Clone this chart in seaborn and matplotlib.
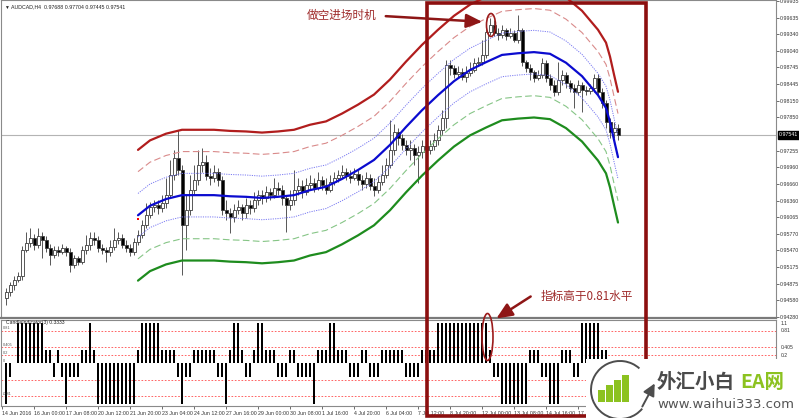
import numpy as np
import pandas as pd
import seaborn as sns
import matplotlib.pyplot as plt
from matplotlib.patches import Rectangle, Ellipse, Arc

# ---- data ----
first_open = 0.9462
closes = [0.9473, 0.9485, 0.9494, 0.9501, 0.9548, 0.9560, 0.9569, 0.9557, 0.9573, 0.9566,
          0.9551, 0.9539, 0.9548, 0.9544, 0.9551, 0.9544, 0.9521, 0.9534, 0.9526, 0.9548,
          0.9557, 0.9569, 0.9566, 0.9551, 0.9548, 0.9544, 0.9553, 0.9566, 0.9569, 0.9557,
          0.9551, 0.9544, 0.9562, 0.9575, 0.9593, 0.9610, 0.9625, 0.9628, 0.9623, 0.9632,
          0.9646, 0.9682, 0.9713, 0.9691, 0.9593, 0.9619, 0.9655, 0.9673, 0.9700, 0.9705,
          0.9680, 0.9677, 0.9687, 0.9673, 0.9619, 0.9614, 0.9607, 0.9619, 0.9625, 0.9614,
          0.9628, 0.9623, 0.9637, 0.9646, 0.9641, 0.9652, 0.9646, 0.9659, 0.9655, 0.9641,
          0.9628, 0.9637, 0.9655, 0.9662, 0.9652, 0.9664, 0.9668, 0.9659, 0.9673, 0.9664,
          0.9655, 0.9670, 0.9677, 0.9682, 0.9687, 0.9680, 0.9677, 0.9684, 0.9673, 0.9666,
          0.9677, 0.9662, 0.9655, 0.9670, 0.9682, 0.9700, 0.9727, 0.9759, 0.9748, 0.9736,
          0.9727, 0.9730, 0.9718, 0.9723, 0.9734, 0.9727, 0.9734, 0.9745, 0.9763, 0.9784,
          0.9879, 0.9874, 0.9863, 0.9866, 0.9858, 0.9865, 0.9870, 0.9883, 0.9884, 0.9897,
          0.9938, 0.9951, 0.9936, 0.9933, 0.9942, 0.9931, 0.9936, 0.9924, 0.9942, 0.9884,
          0.9874, 0.9866, 0.9856, 0.9861, 0.9883, 0.9856, 0.9843, 0.9831, 0.9852, 0.9861,
          0.9847, 0.9838, 0.9831, 0.9843, 0.9834, 0.9832, 0.9838, 0.9856, 0.9831, 0.9811,
          0.9777, 0.9759, 0.9766, 0.9754]
highs = [0.9480, 0.9490, 0.9501, 0.9508, 0.9555, 0.9580, 0.9587, 0.9576, 0.9587, 0.9580,
         0.9573, 0.9559, 0.9555, 0.9555, 0.9559, 0.9555, 0.9551, 0.9539, 0.9537, 0.9555,
         0.9575, 0.9580, 0.9580, 0.9573, 0.9559, 0.9553, 0.9566, 0.9587, 0.9580, 0.9576,
         0.9566, 0.9559, 0.9569, 0.9584, 0.9602, 0.9632, 0.9634, 0.9637, 0.9637, 0.9646,
         0.9677, 0.9709, 0.9727, 0.9763, 0.9700, 0.9646, 0.9682, 0.9700, 0.9727, 0.9730,
         0.9718, 0.9695, 0.9700, 0.9695, 0.9680, 0.9637, 0.9623, 0.9630, 0.9637, 0.9630,
         0.9641, 0.9637, 0.9652, 0.9655, 0.9655, 0.9662, 0.9659, 0.9677, 0.9670, 0.9664,
         0.9646, 0.9655, 0.9691, 0.9677, 0.9673, 0.9677, 0.9682, 0.9677, 0.9687, 0.9680,
         0.9677, 0.9682, 0.9687, 0.9691, 0.9700, 0.9695, 0.9691, 0.9695, 0.9691, 0.9682,
         0.9687, 0.9684, 0.9677, 0.9680, 0.9700, 0.9713, 0.9781, 0.9773, 0.9766, 0.9755,
         0.9745, 0.9745, 0.9738, 0.9734, 0.9745, 0.9745, 0.9745, 0.9757, 0.9772, 0.9798,
         0.9888, 0.9888, 0.9879, 0.9877, 0.9874, 0.9877, 0.9884, 0.9892, 0.9893, 0.9924,
         0.9945, 0.9963, 0.9960, 0.9945, 0.9951, 0.9945, 0.9945, 0.9942, 0.9969, 0.9945,
         0.9888, 0.9881, 0.9870, 0.9870, 0.9892, 0.9888, 0.9863, 0.9852, 0.9884, 0.9870,
         0.9866, 0.9852, 0.9845, 0.9852, 0.9849, 0.9841, 0.9845, 0.9863, 0.9863, 0.9838,
         0.9816, 0.9784, 0.9777, 0.9773]
lows = [0.9449, 0.9466, 0.9476, 0.9490, 0.9494, 0.9544, 0.9553, 0.9548, 0.9551, 0.9534,
        0.9544, 0.9521, 0.9534, 0.9537, 0.9541, 0.9537, 0.9508, 0.9516, 0.9521, 0.9523,
        0.9541, 0.9548, 0.9557, 0.9544, 0.9541, 0.9526, 0.9537, 0.9548, 0.9559, 0.9551,
        0.9544, 0.9537, 0.9539, 0.9557, 0.9569, 0.9587, 0.9605, 0.9616, 0.9612, 0.9616,
        0.9623, 0.9641, 0.9673, 0.9682, 0.9503, 0.9548, 0.9610, 0.9646, 0.9664, 0.9687,
        0.9673, 0.9664, 0.9670, 0.9662, 0.9610, 0.9602, 0.9578, 0.9598, 0.9612, 0.9602,
        0.9605, 0.9612, 0.9616, 0.9628, 0.9630, 0.9634, 0.9637, 0.9641, 0.9646, 0.9628,
        0.9580, 0.9619, 0.9628, 0.9646, 0.9641, 0.9646, 0.9655, 0.9652, 0.9655, 0.9655,
        0.9648, 0.9652, 0.9664, 0.9670, 0.9677, 0.9673, 0.9668, 0.9673, 0.9664, 0.9655,
        0.9659, 0.9655, 0.9644, 0.9650, 0.9664, 0.9677, 0.9695, 0.9718, 0.9736, 0.9727,
        0.9718, 0.9709, 0.9700, 0.9668, 0.9713, 0.9718, 0.9720, 0.9727, 0.9736, 0.9754,
        0.9766, 0.9861, 0.9856, 0.9856, 0.9852, 0.9849, 0.9859, 0.9866, 0.9877, 0.9879,
        0.9892, 0.9933, 0.9931, 0.9924, 0.9927, 0.9924, 0.9927, 0.9920, 0.9918, 0.9877,
        0.9866, 0.9852, 0.9849, 0.9852, 0.9856, 0.9849, 0.9834, 0.9824, 0.9825, 0.9843,
        0.9838, 0.9831, 0.9802, 0.9825, 0.9795, 0.9825, 0.9827, 0.9831, 0.9824, 0.9802,
        0.9766, 0.9748, 0.9748, 0.9745]

# centre line of the band indicator, sampled at these bars
band_bars = [33, 36, 40, 44, 48, 52, 56, 60, 64, 68, 72, 76, 80, 84, 88, 92, 96, 100,
             104, 108, 112, 116, 120, 124, 128, 132, 136, 140, 144, 148, 150, 151, 152, 153]
band_mid = [0.9610, 0.9627, 0.9639, 0.9646, 0.9646, 0.9646, 0.9644, 0.9643, 0.9641, 0.9643,
            0.9646, 0.9655, 0.9661, 0.9675, 0.9691, 0.9709, 0.9736, 0.9768, 0.9798, 0.9825,
            0.9850, 0.9870, 0.9884, 0.9897, 0.9900, 0.9902, 0.9899, 0.9883, 0.9859, 0.9825,
            0.9802, 0.9777, 0.9745, 0.9714]
band_step = 0.0039

signal_bar = 33
signal_price = 0.9604
last_price = 0.97541

# candle indicator histogram (one value per bar)
ind_values = [-1, -0.33, 0, 1, 1, 1, 1, 1, 1, 1, 0.33, 0.33, -0.33, 0.33, -0.33, -1, -0.33, -0.33,
              -0.33, 0.33, 0.33, 1, 0.33, -1, -1, -1, -1, -1, -1, -1, -1, -1, -1, 0.33, 1, 1,
              1, 1, 1, 0.33, 0.33, 0.33, 0.33, -0.33, -1, -0.33, -0.33, 0.33, 0.33, 0.33, 0.33,
              0.33, 0.33, -0.33, -0.33, -1, 0.33, 1, 1, 0.33, -0.33, -0.33, 0.33, 1, 1, 0.33,
              0.33, 0.33, -0.33, -0.33, -0.33, 0.33, 0.33, -0.33, -0.33, -0.33, -0.33, -1, 0.33,
              0.33, 0.33, 1, 1, 0.33, 0.33, 0.33, -0.33, -0.33, -0.33, 0.33, 0.33, -0.33, -0.33,
              -0.33, 0.33, 0.33, 0.33, 0.33, 0.33, 0.33, -0.33, -0.33, -0.33, -0.33, 0.33, 0.33,
              0.33, 0.33, 1, 1, 1, 1, 1, 1, 1, 1, 1, 1, 1, 1, 1, 0.33, -0.33, -0.33, -1, -1, -1,
              -1, -1, -1, -1, 0.33, 0.33, 0.33, -0.33, -0.33, -1, -1, -1, 0.33, 0.33, 0.33,
              -0.33, -0.33, 1, 1, 1, 1, 1, 0.33, 0.33, -0.33, -0.33, -0.33]
ind_levels = [0.81, 0.405, 0.2, -0.405, -0.81]
ind_level_labels = ['0.81', '0.405', '0.2', '0', '-0.81']
ind_level_label_values = [0.81, 0.405, 0.2, 0.0, -0.81]

price_ticks = [0.99935, 0.99635, 0.99340, 0.99040, 0.98745, 0.98445, 0.98150, 0.97850,
               0.97255, 0.96960, 0.96660, 0.96360, 0.96065, 0.95770, 0.95470, 0.95175,
               0.94875, 0.94580, 0.94280]
time_labels = ['14 Jun 2016', '16 Jun 00:00', '17 Jun 08:00', '20 Jun 12:00', '21 Jun 20:00',
               '23 Jun 04:00', '24 Jun 12:00', '27 Jun 16:00', '29 Jun 00:00', '30 Jun 08:00',
               '1 Jul 16:00', '4 Jul 20:00', '6 Jul 04:00', '7 Jul 12:00', '8 Jul 20:00',
               '12 Jul 00:00', '13 Jul 08:00', '14 Jul 16:00', '17 Jul 20:00']
time_label_bars = [-1, 7, 15, 23, 31, 39, 47, 55, 63, 71, 79, 87, 95, 103, 111, 119, 127, 135, 143]

# ---- figure ----
sns.set_theme(style="white")
plt.rcParams['font.family'] = ['Liberation Sans', 'DejaVu Sans']
CJK = ['Noto Sans CJK SC', 'DejaVu Sans']

W, H = 799, 418
fig = plt.figure(figsize=(W / 100, H / 100), dpi=100)
fig.patch.set_facecolor('white')


def px_box(x0, y0, x1, y1):
    return [x0 / W, 1 - y1 / H, (x1 - x0) / W, (y1 - y0) / H]


ax = fig.add_axes(px_box(1, 0, 776, 318))
ax2 = fig.add_axes(px_box(1, 320, 776, 406), sharex=ax)

n = len(closes)
x = np.arange(n)
df = pd.DataFrame({'open': [first_open] + closes[:-1], 'high': highs,
                   'low': lows, 'close': closes}, index=x)
up = df['close'] >= df['open']

# candles
ax.vlines(x, df['low'], df['high'], color='#3c3c3c', lw=0.6, zorder=2)
body_lo = df[['open', 'close']].min(axis=1)
body_h = (df['close'] - df['open']).abs().clip(lower=0.00004)
ax.bar(x, body_h, bottom=body_lo, width=0.75, color=np.where(up, 'white', 'black'),
       edgecolor='#3c3c3c', linewidth=0.6, zorder=3)

# bands
band_df = pd.DataFrame({'bar': band_bars, 'mid': band_mid})
band_styles = [
    (3, '#b11d1d', 1.6, '-'),
    (2, '#d98a8a', 0.8, (0, (6, 3))),
    (1, '#7a7af2', 0.7, (0, (1.2, 1.2))),
    (0, '#0b0bcf', 1.6, '-'),
    (-1, '#7a7af2', 0.7, (0, (1.2, 1.2))),
    (-2, '#86c586', 0.8, (0, (6, 3))),
    (-3, '#1e8c1e', 1.6, '-'),
]
for k, col, lw, ls in band_styles:
    sns.lineplot(x=band_df['bar'], y=band_df['mid'] + k * band_step, ax=ax,
                 color=col, lw=lw, linestyle=ls, zorder=4)
ax.scatter([signal_bar], [signal_price], color='red', s=3, marker='s', zorder=5, lw=0)

ax.axhline(last_price, color='#b4b4b4', lw=0.8, zorder=1)

ax.set_xlim(-1.25, 192.5)
ax.set_ylim(0.94261, 0.99953)
ax.set_xlabel('')
ax.set_ylabel('')
ax.yaxis.tick_right()
ax.set_yticks(price_ticks)
ax.set_yticklabels([f'{p:.5f}' for p in price_ticks])
ax.tick_params(axis='y', labelsize=3.8, colors='#333333', length=2, width=0.5, pad=1,
               right=True, left=False)
ax.tick_params(axis='x', bottom=False, labelbottom=False)
for s in ax.spines.values():
    s.set_color('#8a8a8a')
    s.set_linewidth(0.8)
ax.spines['bottom'].set_linewidth(1.6)
ax.spines['bottom'].set_color('#7a7a7a')
ax.text(1.004, last_price, f'{last_price:.5f}', transform=ax.get_yaxis_transform(),
        fontsize=3.8, color='white', va='center', ha='left',
        bbox=dict(boxstyle='square,pad=0.25', fc='black', ec='black'))
ax.text(0.0035, 0.985, '\u25bc', transform=ax.transAxes, fontsize=3.5, va='top', ha='left')
ax.text(0.013, 0.985, 'AUDCAD,H4  0.97688 0.97704 0.97445 0.97541', transform=ax.transAxes,
        fontsize=3.8, va='top', ha='left', color='#222222')

# indicator panel
ax2.bar(x, ind_values, width=0.68, color='black', lw=0, zorder=3)
for lv in ind_levels:
    ax2.axhline(lv, color='#ff4a4a', lw=0.6, ls=(0, (2, 2)), zorder=1)
ax2.set_ylim(-1.06, 1.08)
ax2.set_yticks([])
ax2.set_xticks(time_label_bars)
ax2.set_xticklabels(time_labels)
for lbl in ax2.get_xticklabels():
    lbl.set_ha('left')
ax2.tick_params(axis='x', labelsize=3.8, colors='#333333', length=2, width=0.5, pad=1.5,
                bottom=True)
for s in ax2.spines.values():
    s.set_color('#8a8a8a')
    s.set_linewidth(0.8)
ax2.text(0.006, 0.998, 'CandleIndicator(3) 0.3333', transform=ax2.transAxes, fontsize=3.6,
         va='top', ha='left', color='#222222', zorder=5)
for lv, txt in zip(ind_level_label_values, ind_level_labels):
    ax2.text(0.003, lv + 0.01, txt, transform=ax2.get_yaxis_transform(), fontsize=2.8,
             va='bottom', ha='left', color='#555555', zorder=5)
for lv, txt in [(1.0, '1.1'), (0.81, '0.81'), (0.405, '0.405'), (0.2, '0.2')]:
    ax2.text(1.006, lv, txt, transform=ax2.get_yaxis_transform(), fontsize=3.6,
             va='center', ha='left', color='#333333')

# ---- overlay: annotations and watermark (pixel coords) ----
ov = fig.add_axes([0, 0, 1, 1], zorder=10)
ov.set_xlim(0, W)
ov.set_ylim(H, 0)
ov.axis('off')
ov.patch.set_alpha(0)

dark_red = '#8c0f0f'
ov.add_patch(Rectangle((427, 3), 218.5, 412.5, fill=False, ec=dark_red, lw=2.6))
ov.add_patch(Ellipse((491, 25), 9, 23, fill=False, ec='#9b1b1b', lw=1.2))
ov.add_patch(Ellipse((487.5, 337), 11, 47, fill=False, ec='#9b1b1b', lw=1.2))
ov.annotate('', xy=(485, 22), xytext=(383, 16),
            arrowprops=dict(arrowstyle='-|>,head_length=0.8,head_width=0.35',
                            color='#8e1616', lw=1.8))
ov.annotate('', xy=(494, 320), xytext=(533, 295),
            arrowprops=dict(arrowstyle='-|>,head_length=0.8,head_width=0.35',
                            color='#8e1616', lw=1.8))
ov.text(307, 15, '做空进场时机', family=CJK, fontsize=8.4, color='#9e2a2a',
        va='center', ha='left')
ov.text(541, 296, '指标高于0.81水平', family=CJK, fontsize=8.4, color='#9e2a2a',
        va='center', ha='left')

# watermark
green = '#8cc220'
ov.add_patch(Rectangle((586, 359), 213, 59, fc='white', ec='none', zorder=5))
ov.add_patch(Arc((620, 390), 58, 58, theta1=40, theta2=312, ec='#4d4d4d', lw=1.4, zorder=6))
ov.annotate('', xy=(656, 381), xytext=(641, 409),
            arrowprops=dict(arrowstyle='-|>,head_length=0.6,head_width=0.3',
                            color='#4d4d4d', lw=1.4), zorder=6)
for bx, top in [(598, 390), (606, 385), (614, 380), (622, 375)]:
    ov.add_patch(Rectangle((bx, top), 6.5, 402 - top, fc=green, ec='none', zorder=6))
ov.text(657, 382, '外汇小白', family=CJK, fontsize=14, weight='bold', color='#4a4a4a',
        va='center', ha='left', zorder=7)
ov.text(740, 382, 'EA网', family=CJK, fontsize=14, weight='bold', color=green,
        va='center', ha='left', zorder=7)
ov.text(657, 405, 'www.waihui333.com', family=['DejaVu Sans'], fontsize=9.5,
        color='#555555', va='center', ha='left', zorder=7)

fig.savefig('out.png', dpi=100, facecolor='white')
